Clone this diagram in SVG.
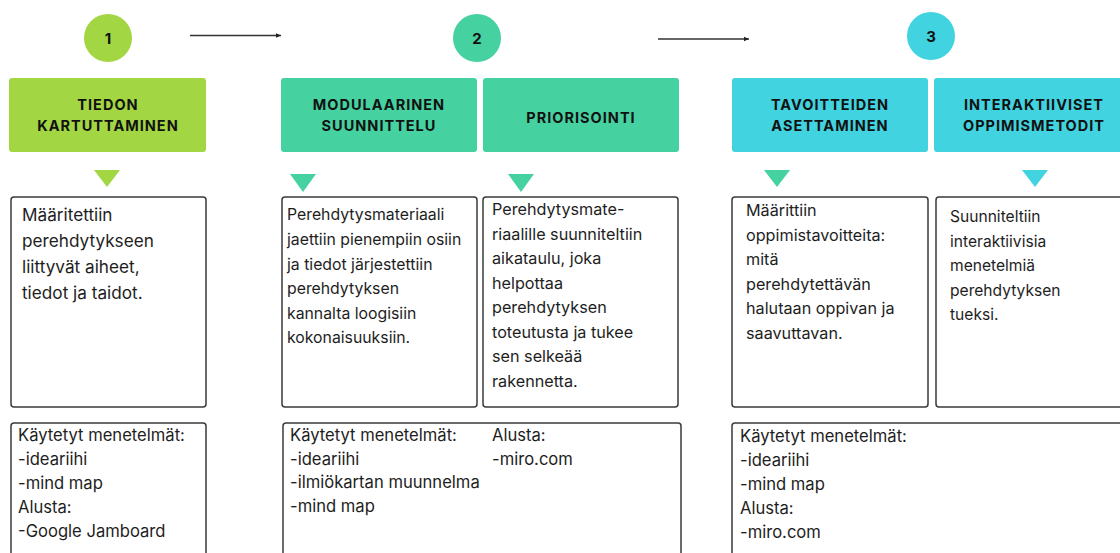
<svg xmlns="http://www.w3.org/2000/svg" width="1120" height="553" viewBox="0 0 1120 553">
<defs>
<style>
.hd{font-family:"Inter","Liberation Sans",sans-serif;font-weight:700;font-size:14.5px;letter-spacing:1px;fill:#111;text-anchor:middle}
.num{font-family:"Inter","Liberation Sans",sans-serif;font-weight:700;font-size:15px;fill:#111;text-anchor:middle}
.tx{font-family:"Inter","Liberation Sans",sans-serif;font-size:16.2px;fill:#1e1e1e}
.bt{font-family:"Inter","Liberation Sans",sans-serif;font-size:16.6px;fill:#1e1e1e}
.box{fill:#fff;stroke:#3a3a3a;stroke-width:1.5}
.g1{fill:#A3D643}.g2{fill:#45D1A0}.g3{fill:#41D3E0}
</style>
<marker id="ah" viewBox="0 0 6 6" refX="5" refY="3" markerWidth="6" markerHeight="6" orient="auto" markerUnits="userSpaceOnUse"><path d="M0,0.8 L5,3 L0,5.2 z" fill="#222"/></marker>
</defs>
<rect width="1120" height="553" fill="#fff"/>
<g id="connectors" stroke="#333" stroke-width="1.3" fill="none">
<line x1="190" y1="35.5" x2="281" y2="35.5" marker-end="url(#ah)"/>
<line x1="658" y1="39" x2="749" y2="39" marker-end="url(#ah)"/>
</g>
<g id="step1">
<circle class="g1" cx="108" cy="38" r="24"/>
<text class="num" x="108" y="43.5">1</text>
</g>
<g id="step2">
<circle class="g2" cx="477" cy="38" r="24"/>
<text class="num" x="477" y="43.5">2</text>
</g>
<g id="step3">
<circle class="g3" cx="931" cy="36" r="24"/>
<text class="num" x="931" y="41.5">3</text>
</g>
<g id="h-tiedon">
<rect class="g1" x="9" y="78" width="197" height="74" rx="3"/>
<text class="hd" x="108" y="110">TIEDON</text>
<text class="hd" x="108" y="131">KARTUTTAMINEN</text>
<polygon class="g1" points="94,170 120,170 107,187"/>
</g>
<g id="h-modul">
<rect class="g2" x="281" y="78" width="196" height="74" rx="3"/>
<text class="hd" x="379" y="110">MODULAARINEN</text>
<text class="hd" x="379" y="131">SUUNNITTELU</text>
<polygon class="g2" points="290,174 316,174 303,192"/>
</g>
<g id="h-prior">
<rect class="g2" x="483" y="78" width="196" height="74" rx="3"/>
<text class="hd" x="581" y="123">PRIORISOINTI</text>
<polygon class="g2" points="508,174 534,174 521,192"/>
</g>
<g id="h-tavoit">
<rect class="g3" x="732" y="78" width="196" height="74" rx="3"/>
<text class="hd" x="830" y="110">TAVOITTEIDEN</text>
<text class="hd" x="830" y="131">ASETTAMINEN</text>
<polygon class="g2" points="764,170 790,170 777,187"/>
</g>
<g id="h-interakt">
<rect class="g3" x="934" y="78" width="200" height="74" rx="3"/>
<text class="hd" x="1034" y="110">INTERAKTIIVISET</text>
<text class="hd" x="1034" y="131">OPPIMISMETODIT</text>
<polygon class="g3" points="1022,170 1048,170 1035,187"/>
</g>
<g id="d-tiedon">
<rect class="box" x="11" y="197" width="195" height="210" rx="3"/>
<text class="tx" style="font-size:17.2px"><tspan x="22" y="221">Määritettiin</tspan><tspan x="22" y="247">perehdytykseen</tspan><tspan x="22" y="273">liittyvät aiheet,</tspan><tspan x="22" y="299">tiedot ja taidot.</tspan></text>
</g>
<g id="d-modul">
<rect class="box" x="282" y="197" width="195" height="210" rx="3"/>
<text class="tx" style="font-size:15.8px"><tspan x="287" y="220">Perehdytysmateriaali</tspan><tspan x="287" y="245">jaettiin pienempiin osiin</tspan><tspan x="287" y="269.5">ja tiedot järjestettiin</tspan><tspan x="287" y="294">perehdytyksen</tspan><tspan x="287" y="318.5">kannalta loogisiin</tspan><tspan x="287" y="343">kokonaisuuksiin.</tspan></text>
</g>
<g id="d-prior">
<rect class="box" x="483" y="197" width="195" height="210" rx="3"/>
<text class="tx"><tspan x="492" y="215">Perehdytysmate-</tspan><tspan x="492" y="239.5">riaalille suunniteltiin</tspan><tspan x="492" y="264">aikataulu, joka</tspan><tspan x="492" y="288.5">helpottaa</tspan><tspan x="492" y="313">perehdytyksen</tspan><tspan x="492" y="337.5">toteutusta ja tukee</tspan><tspan x="492" y="362">sen selkeää</tspan><tspan x="492" y="386.5">rakennetta.</tspan></text>
</g>
<g id="d-tavoit">
<rect class="box" x="732" y="197" width="196" height="210" rx="3"/>
<text class="tx"><tspan x="746" y="216">Määrittiin</tspan><tspan x="746" y="240.5">oppimistavoitteita:</tspan><tspan x="746" y="265">mitä</tspan><tspan x="746" y="289.5">perehdytettävän</tspan><tspan x="746" y="314">halutaan oppivan ja</tspan><tspan x="746" y="338.5">saavuttavan.</tspan></text>
</g>
<g id="d-interakt">
<rect class="box" x="936" y="197" width="200" height="210" rx="3"/>
<text class="tx" style="font-size:15.6px"><tspan x="950" y="222">Suunniteltiin</tspan><tspan x="950" y="246.5">interaktiivisia</tspan><tspan x="950" y="271">menetelmiä</tspan><tspan x="950" y="295.5">perehdytyksen</tspan><tspan x="950" y="320">tueksi.</tspan></text>
</g>
<g id="m-tiedon">
<rect class="box" x="11" y="423" width="195" height="150" rx="3"/>
<text class="bt"><tspan x="18" y="441">Käytetyt menetelmät:</tspan><tspan x="18" y="465">-ideariihi</tspan><tspan x="18" y="489">-mind map</tspan><tspan x="18" y="513">Alusta:</tspan><tspan x="18" y="537">-Google Jamboard</tspan></text>
</g>
<g id="m-modul">
<rect class="box" x="283" y="423" width="398" height="150" rx="3"/>
<text class="bt"><tspan x="290" y="441">Käytetyt menetelmät:</tspan><tspan x="290" y="464.5">-ideariihi</tspan><tspan x="290" y="488">-ilmiökartan muunnelma</tspan><tspan x="290" y="511.5">-mind map</tspan></text>
<text class="bt"><tspan x="492" y="441">Alusta:</tspan><tspan x="492" y="464.5">-miro.com</tspan></text>
</g>
<g id="m-tavoit">
<rect class="box" x="732" y="423" width="400" height="150" rx="3"/>
<text class="bt"><tspan x="740" y="442">Käytetyt menetelmät:</tspan><tspan x="740" y="466">-ideariihi</tspan><tspan x="740" y="490">-mind map</tspan><tspan x="740" y="514">Alusta:</tspan><tspan x="740" y="538">-miro.com</tspan></text>
</g>
</svg>
